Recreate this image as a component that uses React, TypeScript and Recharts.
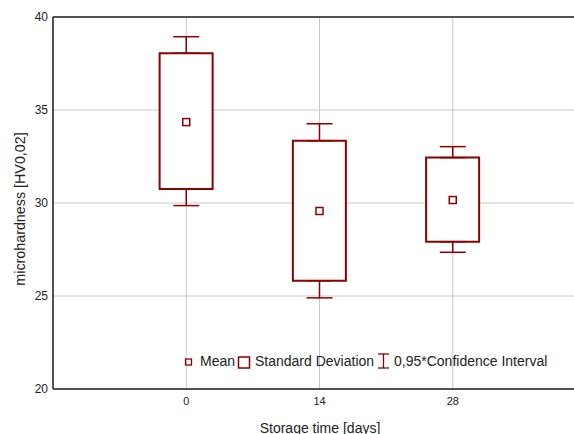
import {
  ComposedChart,
  Bar,
  Scatter,
  ErrorBar,
  XAxis,
  YAxis,
  CartesianGrid,
  ReferenceLine,
} from "recharts";

// storage time (days) and microhardness statistics
const days = [0, 14, 28];
const means = [34.35, 29.57, 30.16];
const sdLow = [30.75, 25.82, 27.92];
const sdHigh = [38.05, 33.35, 32.44];
const ciLow = [29.86, 24.9, 27.35];
const ciHigh = [38.94, 34.26, 33.03];

const xTicks = [0, 14, 28];
const yTicks = [20, 25, 30, 35, 40];
const legendLabels = ["Mean", "Standard Deviation", "0,95*Confidence Interval"];

const RED = "#8b0000";

const data = days.map((d, i) => ({
  day: d,
  mean: means[i],
  sd: [sdLow[i], sdHigh[i]],
  top: sdHigh[i],
  topErr: [0, ciHigh[i] - sdHigh[i]],
  bottom: sdLow[i],
  bottomErr: [sdLow[i] - ciLow[i], 0],
}));

const hidden = () => <g />;

const meanMarker = (props: any) => (
  <rect
    x={props.cx - 3.5}
    y={props.cy - 3.5}
    width={7}
    height={7}
    fill="#fff"
    stroke={RED}
    strokeWidth={1.5}
  />
);

const yTitle = () => (
  <text x={20} y={209} transform="rotate(-90, 20, 209)" textAnchor="middle" dominantBaseline="central" fontSize={14.3} fill="#222">
    microhardness [HV0,02]
  </text>
);

const xTitle = () => (
  <text x={320} y={432.5} textAnchor="middle" fontSize={14} fill="#222">
    Storage time [days]
  </text>
);

function LegendOverlay() {
  const text = { position: "absolute" as const, top: 353, fontSize: 14, color: "#222", whiteSpace: "nowrap" as const };
  return (
    <>
      <svg style={{ position: "absolute", left: 0, top: 0, pointerEvents: "none" }} width={574} height={434}>
        <rect x={185.5} y={359} width={6} height={6} fill="none" stroke={RED} strokeWidth={1.3} />
        <rect x={238.5} y={357} width={11} height={11} fill="none" stroke={RED} strokeWidth={1.5} />
        <line x1={383.5} y1={354} x2={383.5} y2={368} stroke={RED} strokeWidth={1.3} />
        <line x1={378} y1={354} x2={389} y2={354} stroke={RED} strokeWidth={1.3} />
        <line x1={378} y1={368} x2={389} y2={368} stroke={RED} strokeWidth={1.3} />
      </svg>
      <span style={{ ...text, left: 200 }}>{legendLabels[0]}</span>
      <span style={{ ...text, left: 255 }}>{legendLabels[1]}</span>
      <span style={{ ...text, left: 394 }}>{legendLabels[2]}</span>
    </>
  );
}

export default function App() {
  return (
    <div
      style={{
        position: "absolute",
        left: 0,
        top: 0,
        width: 574,
        height: 434,
        overflow: "hidden",
        background: "#fff",
        fontFamily: "'Liberation Sans', Arial, sans-serif",
      }}
    >
      <ComposedChart width={600} height={434} data={data} margin={{ top: 17, right: 14, left: 0, bottom: 0 }}>
        <CartesianGrid stroke="#c8c8c8" strokeWidth={1} />
        <XAxis
          dataKey="day"
          type="number"
          domain={[-14, 42]}
          ticks={xTicks}
          allowDataOverflow
          height={45}
          tickLine={false}
          tickSize={6}
          tickMargin={2}
          axisLine={{ stroke: "#222", strokeWidth: 1.5 }}
          tick={{ fontSize: 11, fill: "#222" }}
          label={{ content: xTitle }}
        />
        <YAxis
          type="number"
          domain={[20, 40]}
          ticks={yTicks}
          width={53}
          tickLine={false}
          tickSize={3}
          tickMargin={2}
          axisLine={{ stroke: "#222", strokeWidth: 1.5 }}
          tick={{ fontSize: 12, fill: "#222" }}
          label={{ content: yTitle }}
        />
        <ReferenceLine y={40} stroke="#222" strokeWidth={1.5} />
        <Scatter dataKey="top" shape={hidden} isAnimationActive={false}>
          <ErrorBar dataKey="topErr" direction="y" width={13} stroke={RED} strokeWidth={1.5} isAnimationActive={false} />
        </Scatter>
        <Scatter dataKey="bottom" shape={hidden} isAnimationActive={false}>
          <ErrorBar dataKey="bottomErr" direction="y" width={13} stroke={RED} strokeWidth={1.5} isAnimationActive={false} />
        </Scatter>
        <Bar dataKey="sd" barSize={53} fill="#fff" stroke={RED} strokeWidth={2} isAnimationActive={false} />
        <Scatter dataKey="mean" shape={meanMarker} isAnimationActive={false} />
      </ComposedChart>
      <LegendOverlay />
    </div>
  );
}
